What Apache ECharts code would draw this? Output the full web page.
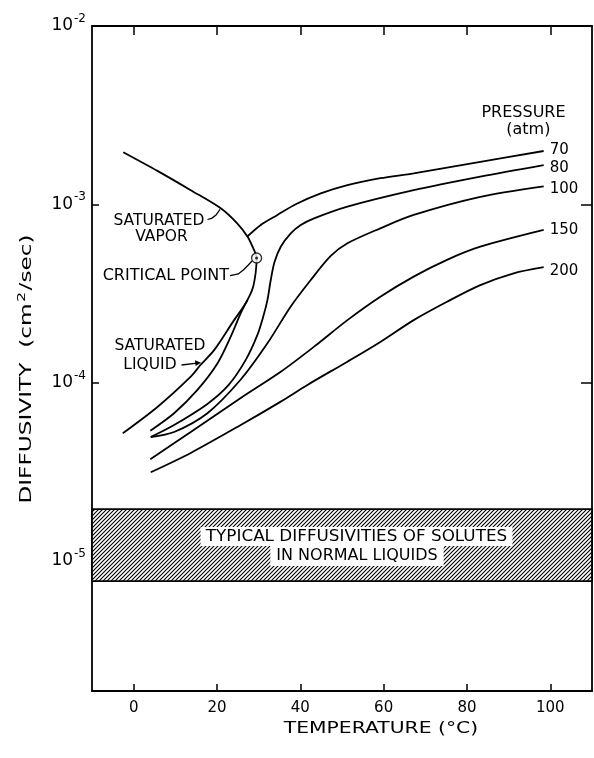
<!DOCTYPE html>
<html>
<head>
<meta charset="utf-8">
<script src="https://cdn.jsdelivr.net/npm/echarts@6/dist/echarts.min.js"></script>
<style>
  html, body { margin: 0; padding: 0; background: #fff; }
  #chart { width: 594px; height: 758px; }
</style>
</head>
<body>
<div id="chart"></div>
<script>
// Temperature in °C, diffusivity in cm²/sec.

// Saturation boundary: vapor branch down to the critical point, then the liquid branch
const satT = [-2.5, 5.7, 13.7, 20.9, 24.9, 27.3, 28.5, 29.5, 29.3, 28.6, 27.3, 25.8, 24.1, 19.3, 16.1, 13.7, 5.7, -2.6];
const satD = [1.96e-3, 1.54e-3, 1.20e-3, 9.5e-4, 7.8e-4, 6.6e-4, 5.8e-4, 5.0e-4, 4.17e-4, 3.40e-4, 2.90e-4, 2.55e-4, 2.24e-4, 1.52e-4, 1.26e-4, 1.08e-4, 7.3e-5, 5.2e-5];

// Critical point
const critT = 29.5;
const critD = 5.0e-4;

// 70 atm isobar: liquid part and vapor part
const p70LiqT = [4.0, 9.7, 15.3, 20.1, 23.3, 25.7, 27.3];
const p70LiqD = [5.37e-5, 6.73e-5, 9.1e-5, 1.28e-4, 1.81e-4, 2.45e-4, 2.90e-4];
const p70VapT = [27.3, 30.5, 34.5, 38.9, 44.9, 51.3, 59.2, 67.2, 83.2, 98.4];
const p70VapD = [6.6e-4, 7.66e-4, 8.71e-4, 1.00e-3, 1.15e-3, 1.28e-3, 1.40e-3, 1.49e-3, 1.73e-3, 1.99e-3];

// 80 atm isobar
const p80T = [4.1, 9.7, 17.7, 22.8, 26.9, 29.7, 31.2, 32.1, 32.9, 33.8, 35.3, 37.7, 40.1, 43.3, 51.3, 67.2, 83.2, 98.4];
const p80D = [4.95e-5, 5.78e-5, 7.59e-5, 9.7e-5, 1.34e-4, 1.85e-4, 2.39e-4, 2.90e-4, 3.76e-4, 4.74e-4, 5.78e-4, 6.87e-4, 7.66e-4, 8.34e-4, 9.7e-4, 1.20e-3, 1.43e-3, 1.66e-3];

// 100 atm isobar
const p100T = [4.1, 9.7, 17.7, 25.7, 32.1, 37.7, 42.5, 47.3, 51.3, 59.2, 67.2, 83.2, 98.4];
const p100D = [4.95e-5, 5.28e-5, 6.73e-5, 1.04e-4, 1.66e-4, 2.67e-4, 3.76e-4, 5.13e-4, 6.04e-4, 7.33e-4, 8.71e-4, 1.10e-3, 1.26e-3];

// 150 atm isobar
const p150T = [4.0, 13.7, 25.7, 35.3, 43.3, 51.3, 59.2, 67.2, 75.2, 83.2, 98.4];
const p150D = [3.72e-5, 5.28e-5, 8.2e-5, 1.15e-4, 1.59e-4, 2.24e-4, 3.03e-4, 3.93e-4, 4.88e-4, 5.78e-4, 7.18e-4];

// 200 atm isobar
const p200T = [4.1, 13.7, 25.7, 35.3, 41.7, 51.3, 59.2, 67.2, 75.2, 83.2, 91.2, 98.4];
const p200D = [3.14e-5, 4.03e-5, 5.78e-5, 7.82e-5, 9.7e-5, 1.31e-4, 1.69e-4, 2.24e-4, 2.84e-4, 3.52e-4, 4.10e-4, 4.44e-4];

// Range of solute diffusivities in ordinary liquids
const bandHigh = 1.95e-5;
const bandLow = 7.7e-6;

// Axis ranges and ticks
const xMin = -10, xMax = 110;
const xTicks = [0, 20, 40, 60, 80, 100];
const yMinExp = -5.73, yMaxExp = -2;
const yTickExp = [-5, -4, -3, -2];

const FONT = '"DejaVu Sans", sans-serif';
const INK = '#000';

function pts(T, D) {
  return T.map((t, i) => [t, Math.log10(D[i])]);
}

// Diagonal hatching used to fill the liquid-solute band
function hatchCanvas() {
  const c = document.createElement('canvas');
  c.width = 4; c.height = 4;
  const g = c.getContext('2d');
  g.fillStyle = '#fff';
  g.fillRect(0, 0, 4, 4);
  g.strokeStyle = '#000';
  g.lineWidth = 1.1;
  g.beginPath();
  g.moveTo(-1, 5); g.lineTo(5, -1);
  g.moveTo(-1, 1); g.lineTo(1, -1);
  g.moveTo(3, 5); g.lineTo(5, 3);
  g.stroke();
  return c;
}

const curveStyle = { color: INK, width: 1.8 };

function isobar(name, T, D, dy) {
  return {
    type: 'line', name: name, data: pts(T, D), smooth: 0.3,
    symbol: 'none', lineStyle: curveStyle, silent: true,
    endLabel: name ? {
      show: true, formatter: name, distance: 6, offset: [0, dy],
      color: INK, fontSize: 15, fontFamily: FONT
    } : undefined
  };
}

function txt(x, y, text, size, extra) {
  return Object.assign({
    type: 'text', x: x, y: y, z: 50, silent: true,
    style: {
      text: text, fill: INK, fontSize: size, fontFamily: FONT,
      align: 'center', verticalAlign: 'middle',
      textAlign: 'center', textVerticalAlign: 'middle'
    }
  }, extra || {});
}

function poly(points, w) {
  return { type: 'polyline', z: 50, silent: true, shape: { points: points },
           style: { stroke: INK, lineWidth: w || 1.3, fill: null } };
}

const chart = echarts.init(document.getElementById('chart'), null, { renderer: 'canvas' });

const bandText1 = txt(356.5, 536.5, 'TYPICAL DIFFUSIVITIES OF SOLUTES', 16, { z: 60, scaleX: 1.05 });
bandText1.style.backgroundColor = '#fff';
bandText1.style.padding = [2, 5, 1, 5];
const bandText2 = txt(357, 556, 'IN NORMAL LIQUIDS', 16, { z: 55 });
bandText2.style.backgroundColor = '#fff';
bandText2.style.padding = [2, 6, 2, 6];

const yTitle = txt(27, 369, 'DIFFUSIVITY  (cm{s|2}/sec)', 16, { rotation: Math.PI / 2, scaleX: 1.45 });
yTitle.style.rich = { s: { fontSize: 11, fontFamily: FONT, fill: INK, color: INK, padding: [0, 1, 10, 1] } };

const option = {
  backgroundColor: '#fff',
  animation: false,
  grid: { left: 92, right: 2, top: 26, bottom: 67, containLabel: false },
  xAxis: [
    {
      type: 'value', min: xMin, max: xMax, position: 'bottom',
      axisLine: { show: true, onZero: false, lineStyle: { color: INK, width: 1.8 } },
      axisTick: { show: true, inside: true, length: 7, customValues: xTicks, lineStyle: { color: INK, width: 1.5 } },
      axisLabel: { show: true, customValues: xTicks, margin: 10, color: INK, fontSize: 15, fontFamily: FONT },
      splitLine: { show: false }
    },
    {
      type: 'value', min: xMin, max: xMax, position: 'top',
      axisLine: { show: true, onZero: false, lineStyle: { color: INK, width: 1.8 } },
      axisTick: { show: true, inside: true, length: 9, customValues: xTicks, lineStyle: { color: INK, width: 1.5 } },
      axisLabel: { show: false },
      splitLine: { show: false }
    }
  ],
  yAxis: [
    {
      type: 'value', min: yMinExp, max: yMaxExp, position: 'left',
      axisLine: { show: true, onZero: false, lineStyle: { color: INK, width: 1.8 } },
      axisTick: { show: true, inside: true, length: 7, customValues: yTickExp, lineStyle: { color: INK, width: 1.5 } },
      axisLabel: {
        show: true, customValues: yTickExp, margin: 6,
        formatter: function (v) { return '{b|10}{s|' + Math.round(v) + '}'; },
        rich: {
          b: { fontSize: 17, fontFamily: FONT, color: INK },
          s: { fontSize: 12, fontFamily: FONT, color: INK, padding: [0, 0, 14, 1] }
        }
      },
      splitLine: { show: false }
    },
    {
      type: 'value', min: yMinExp, max: yMaxExp, position: 'right',
      axisLine: { show: true, onZero: false, lineStyle: { color: INK, width: 1.8 } },
      axisTick: { show: true, inside: true, length: 11, customValues: yTickExp, lineStyle: { color: INK, width: 1.5 } },
      axisLabel: { show: false },
      splitLine: { show: false }
    }
  ],
  series: [
    {
      type: 'line', name: 'band', data: [], symbol: 'none', silent: true,
      markArea: {
        silent: true,
        itemStyle: { color: { image: hatchCanvas(), repeat: 'repeat' }, borderColor: INK, borderWidth: 1.8 },
        data: [[
          { xAxis: xMin, yAxis: Math.log10(bandHigh) },
          { xAxis: xMax, yAxis: Math.log10(bandLow) }
        ]]
      }
    },
    { type: 'line', name: 'saturation', data: pts(satT, satD), smooth: 0.3, symbol: 'none', lineStyle: curveStyle, silent: true },
    isobar('', p70LiqT, p70LiqD, 0),
    isobar('70', p70VapT, p70VapD, -1),
    isobar('80', p80T, p80D, 3),
    isobar('100', p100T, p100D, 3),
    isobar('150', p150T, p150D, 0),
    isobar('200', p200T, p200D, 4),
    {
      type: 'scatter', name: 'critical point', data: [[critT, Math.log10(critD)]],
      symbol: 'circle', symbolSize: 10, silent: true, z: 5,
      itemStyle: { color: '#fff', borderColor: INK, borderWidth: 1.4 }
    },
    {
      type: 'scatter', name: 'critical point centre', data: [[critT, Math.log10(critD)]],
      symbol: 'circle', symbolSize: 3, silent: true, z: 6,
      itemStyle: { color: INK }
    }
  ],
  graphic: { elements: [
    bandText2,
    bandText1,
    txt(381, 729, 'TEMPERATURE (°C)', 16, { scaleX: 1.27 }),
    yTitle,
    txt(523.5, 112.7, 'PRESSURE', 16),
    txt(528.3, 130, '(atm)', 16),
    txt(159, 220.5, 'SATURATED', 15.5),
    txt(161.5, 236.5, 'VAPOR', 15.5),
    poly([[207.5, 219.5], [211.7, 218.3], [216, 215], [220, 209.3]]),
    txt(165.8, 275.7, 'CRITICAL POINT', 16),
    poly([[230, 275.7], [238.3, 274], [243.3, 270], [248.3, 265], [252, 261]]),
    txt(160, 346, 'SATURATED', 15.5),
    txt(150, 365, 'LIQUID', 15.5),
    poly([[181.5, 365], [197, 363.2]]),
    { type: 'polygon', z: 50, silent: true, shape: { points: [[201, 362.7], [195, 360.2], [195.6, 366]] }, style: { fill: INK } }
  ] }
};

chart.setOption(option);
</script>
</body>
</html>
